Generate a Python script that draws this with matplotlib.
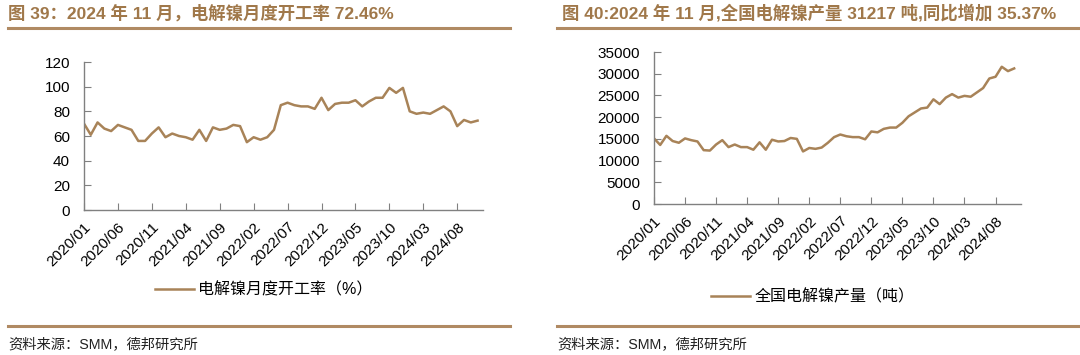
import numpy as np
import pandas as pd
import matplotlib
matplotlib.use('Agg')
import matplotlib.pyplot as plt
from matplotlib.lines import Line2D

plt.rcParams['font.family'] = ['Liberation Sans', 'Noto Sans CJK SC']

# Данные: месяцы 2020/01 - 2024/11
months = pd.date_range('2020-01', '2024-11', freq='MS').strftime('%Y/%m').tolist()

# Загрузка мощностей электролитического никеля, %
utilization = [70, 61, 71, 66, 64, 69, 67, 65, 56, 56,
               62, 67, 59, 62, 60, 59, 57, 65, 56, 67,
               65, 66, 69, 68, 55, 59, 57, 59, 65, 85,
               87, 85, 84, 84, 82, 91, 81, 86, 87, 87,
               89, 84, 88, 91, 91, 99, 95, 99, 80, 78,
               79, 78, 81, 84, 80, 68, 73, 71, 72.46]

# Производство электролитического никеля, тонн
output = [15100, 13600, 15700, 14500, 14100, 15100, 14700, 14400, 12400, 12300,
          13700, 14700, 13100, 13700, 13100, 13100, 12500, 14200, 12500, 14800,
          14400, 14500, 15200, 15000, 12100, 12900, 12700, 13000, 14100, 15400,
          16000, 15600, 15400, 15400, 14900, 16700, 16500, 17300, 17600, 17600,
          18700, 20200, 21100, 22000, 22200, 24100, 23000, 24500, 25300, 24500,
          24900, 24700, 25700, 26700, 28900, 29300, 31600, 30600, 31217]

titles = ['图 39：2024 年 11 月，电解镍月度开工率 72.46%',
          '图 40:2024 年 11 月,全国电解镍产量 31217 吨,同比增加 35.37%']
legend_labels = ['电解镍月度开工率（%）', '全国电解镍产量（吨）']
source = '资料来源：SMM，德邦研究所'

line_color = '#A88358'
title_color = '#A0784A'
W, H = 1080, 355

fig = plt.figure(figsize=(W / 100, H / 100), dpi=100)
x = np.arange(len(months))
tick_idx = list(range(0, len(months), 5))


def px_axes(left, top, right, bottom):
    return fig.add_axes([left / W, 1 - bottom / H, (right - left) / W, (bottom - top) / H])


def style_axes(ax):
    for s in ['top', 'right']:
        ax.spines[s].set_visible(False)
    for s in ['left', 'bottom']:
        ax.spines[s].set_color('#808080')
        ax.spines[s].set_linewidth(1.0)
    ax.tick_params(direction='in', length=5, color='#808080', labelsize=11, labelcolor='black')
    ax.tick_params(axis='y', pad=10)
    ax.tick_params(axis='x', pad=7)
    ax.set_xticks(tick_idx)
    ax.set_xticklabels([months[i] for i in tick_idx], rotation=45, ha='right',
                       rotation_mode='anchor', fontsize=11)


# Левый график
ax1 = px_axes(84, 62, 483, 210)
ax1.plot(x, utilization, color=line_color, lw=1.8)
ax1.set_ylim(0, 120)
ax1.set_yticks(range(0, 121, 20))
ax1.set_xlim(0, 58.8)
style_axes(ax1)

# Правый график
ax2 = px_axes(654, 52, 1021, 204)
ax2.plot(x, output, color=line_color, lw=1.8)
ax2.set_ylim(0, 35000)
ax2.set_yticks(range(0, 35001, 5000))
ax2.set_xlim(0, 59.1)
style_axes(ax2)

# Легенды
for ax, lab, cx, cy in [(ax1, legend_labels[0], 264 / W, 1 - 290 / H),
                        (ax2, legend_labels[1], 813 / W, 1 - 297 / H)]:
    h = Line2D([], [], color=line_color, lw=1.8)
    fig.legend([h], [lab], loc='center', bbox_to_anchor=(cx, cy), frameon=False,
               fontsize=11.5, handlelength=2.4, handletextpad=0.3)

# Заголовки
fig.text(8 / W, 1 - 13 / H, titles[0], fontsize=12.5, fontweight='bold',
         color=title_color, va='center', ha='left')
fig.text(562 / W, 1 - 13 / H, titles[1], fontsize=12.5, fontweight='bold',
         color=title_color, va='center', ha='left')

# Разделительные линии
for x0, x1 in [(8, 510), (557, 1078)]:
    for y in [28, 326]:
        fig.add_artist(Line2D([x0 / W, x1 / W], [1 - y / H, 1 - y / H],
                              color='#B08A63', lw=2.2))

# Источник
fig.text(8 / W, 1 - 344 / H, source, fontsize=10.3, va='center', ha='left', color='#222222')
fig.text(557 / W, 1 - 344 / H, source, fontsize=10.3, va='center', ha='left', color='#222222')

fig.savefig('out.png', dpi=100)
